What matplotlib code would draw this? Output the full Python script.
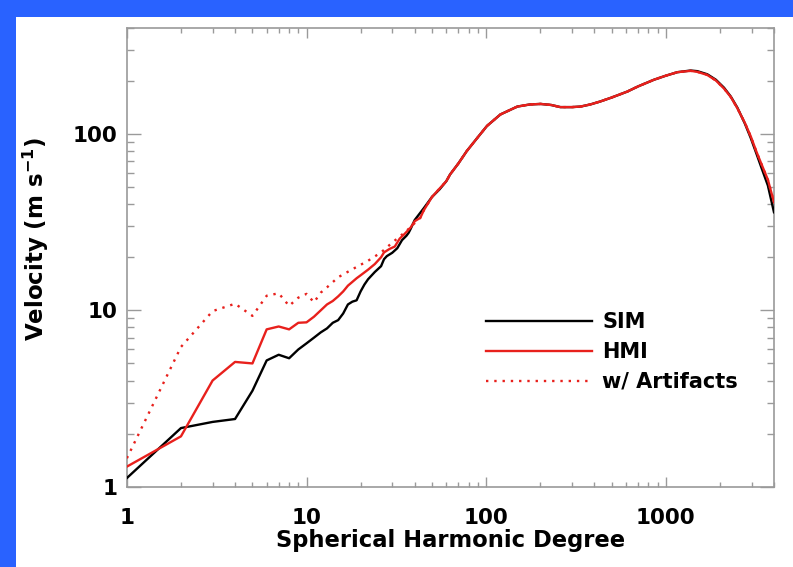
import matplotlib
matplotlib.use("Agg")
import matplotlib.pyplot as plt
from matplotlib.patches import Rectangle
from matplotlib.ticker import LogLocator, NullFormatter, FixedLocator, FixedFormatter

plt.rcParams['font.family'] = ['DejaVu Sans']
plt.rcParams['mathtext.fontset'] = 'dejavusans'

# ---- data ----
sim_l = [1, 2, 3, 4, 5, 6, 7, 8, 9, 10, 11, 12, 13, 14, 15, 16, 17, 18, 19, 20,
         21, 22, 24, 26, 27, 28, 30, 32, 34, 36, 37, 38, 40, 45, 50, 55]
sim_v = [1.12, 2.15, 2.33, 2.42, 3.5, 5.2, 5.6, 5.35, 6.0, 6.5, 7.0, 7.5, 7.9, 8.5, 8.8,
         9.6, 10.8, 11.2, 11.4, 12.8, 14.0, 15.0, 16.5, 17.8, 19.5, 20.3, 21.2, 22.5,
         25.0, 26.5, 27.5, 29.0, 32.5, 38.0, 44.0, 48.5]

hmi_l = [1, 2, 3, 4, 5, 6, 7, 8, 9, 10, 11, 12, 13, 14, 15, 16, 17, 18, 19, 20,
         22, 24, 26, 27, 29, 31, 33, 35, 38, 40, 43, 45, 50, 55]
hmi_v = [1.3, 1.93, 4.0, 5.1, 5.0, 7.8, 8.1, 7.8, 8.5, 8.55, 9.2, 10.0, 10.8, 11.3, 12.0,
         12.8, 13.8, 14.5, 15.2, 15.8, 17.0, 18.3, 20.0, 21.3, 22.3, 23.0, 25.5, 27.0,
         29.5, 32.0, 33.5, 37.0, 44.0, 49.0]

art_l = [1, 2, 3, 4, 5, 6, 7, 8, 9, 10, 11, 12, 13, 15, 18, 22, 26, 30, 36, 43, 45, 50, 55]
art_v = [1.45, 6.2, 9.9, 10.9, 9.3, 12.1, 12.5, 10.6, 11.8, 12.4, 11.1, 12.6, 13.5, 15.4,
         17.1, 19.1, 21.3, 24.2, 28.2, 33.5, 37.0, 44.0, 49.0]

# high-degree part
high_l = [60, 63, 70, 78, 90, 101, 120, 149, 175, 201, 230, 259, 300, 335, 380, 433, 500,
          611, 700, 859, 1000, 1159, 1374, 1500, 1702, 1900, 2108, 2300, 2502, 2750,
          2969, 3200, 3377, 3700, 4000]
sim_high_v = [54, 59, 68, 80, 96, 111, 129, 143, 147, 148, 146, 142, 142, 143, 147, 153,
              161, 174, 186, 203, 214, 224, 229, 227, 218, 203, 183, 163, 141, 115,
              95, 77, 66, 51, 36]
hmi_high_v = [54, 59, 68, 80, 96, 111, 129, 143, 147, 148, 146, 142, 142, 143, 147, 153,
              161, 174, 186, 203, 214, 224, 228, 225, 216, 201, 181, 162, 140, 116,
              97, 79, 69, 55, 41]

legend_labels = ['SIM', 'HMI', 'w/ Artifacts']
xtick_vals = [1, 10, 100, 1000]
xtick_labels = ['1', '10', '100', '1000']
ytick_vals = [1, 10, 100]
ytick_labels = ['1', '10', '100']

# ---- figure ----
fig = plt.figure(figsize=(7.93, 5.67), dpi=100)
fig.patch.set_facecolor('#2962ff')
fig.patches.append(Rectangle((16 / 793, 0), 1, 1 - 17 / 567, transform=fig.transFigure,
                             facecolor='white', edgecolor='none', zorder=-10))

ax = fig.add_axes([0.160, 0.1416, 0.816, 0.8094])
ax.set_xscale('log')
ax.set_yscale('log')
ax.set_xlim(1, 4000)
ax.set_ylim(1, 400)

red = '#e8201c'
ax.plot(sim_l + high_l, sim_v + sim_high_v, color='black', lw=1.7, label=legend_labels[0], zorder=3)
ax.plot(art_l + high_l, art_v + hmi_high_v, color=red, lw=1.7, linestyle=(0, (1, 2.5)),
        label=legend_labels[2], zorder=4)
ax.plot(hmi_l + high_l, hmi_v + hmi_high_v, color=red, lw=1.7, label=legend_labels[1], zorder=5)

grey = '#9a9a9a'
for s in ax.spines.values():
    s.set_color(grey)
    s.set_linewidth(1.2)

ax.xaxis.set_major_locator(FixedLocator(xtick_vals))
ax.xaxis.set_major_formatter(FixedFormatter(xtick_labels))
ax.yaxis.set_major_locator(FixedLocator(ytick_vals))
ax.yaxis.set_major_formatter(FixedFormatter(ytick_labels))
ax.xaxis.set_minor_locator(LogLocator(base=10, subs=range(2, 10), numticks=20))
ax.yaxis.set_minor_locator(LogLocator(base=10, subs=range(2, 10), numticks=20))
ax.xaxis.set_minor_formatter(NullFormatter())
ax.yaxis.set_minor_formatter(NullFormatter())

ax.tick_params(axis='both', which='both', direction='in', color=grey, width=1.0,
               top=True, right=True)
ax.tick_params(axis='x', which='major', length=7, pad=15)
ax.tick_params(axis='x', which='minor', length=3.5)
ax.tick_params(axis='y', which='major', length=10, pad=7)
ax.tick_params(axis='y', which='minor', length=5)
for lab in ax.get_xticklabels() + ax.get_yticklabels():
    lab.set_fontsize(15.5)
    lab.set_fontweight('bold')

ax.set_xlabel('Spherical Harmonic Degree', fontsize=16.3, fontweight='bold', labelpad=1)
ax.set_ylabel(r'Velocity (m s$^{\mathbf{-1}}$)', fontsize=16.5, fontweight='bold')
ax.yaxis.set_label_coords(-0.118, 0.54)

handles, labels = ax.get_legend_handles_labels()
hmap = dict(zip(labels, handles))
leg = ax.legend([hmap[l] for l in legend_labels], legend_labels, loc='upper left',
                bbox_to_anchor=(0.555, 0.380), frameon=False, fontsize=15,
                handlelength=5.1, handletextpad=0.48, labelspacing=0.47, borderpad=0,
                borderaxespad=0)
for t in leg.get_texts():
    t.set_fontweight('bold')

fig.savefig('out.png', dpi=100, facecolor=fig.get_facecolor())
